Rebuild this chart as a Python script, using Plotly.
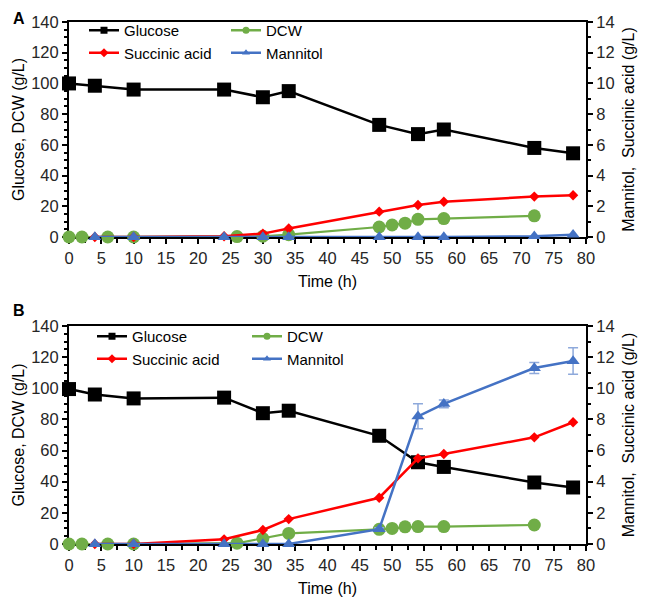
import plotly.graph_objects as go

# ---------------- data ----------------
# Panel A
a_glc_t = [0, 4, 10, 24, 30, 34, 48, 54, 58, 72, 78]
a_glc = [100, 98.5, 96, 96, 91, 95, 73, 67, 70, 58, 54.5]
a_dcw_t = [0, 2, 6, 10, 26, 30, 34, 48, 50, 52, 54, 58, 72]
a_dcw = [0, 0, 0, 0, 0.3, 0.5, 1.5, 6.5, 7.8, 9, 11.5, 12, 13.8]
a_sa_t = [4, 10, 24, 30, 34, 48, 54, 58, 72, 78]
a_sa = [0, 0, 0.05, 0.22, 0.55, 1.65, 2.08, 2.3, 2.63, 2.72]
a_man_t = [4, 10, 24, 30, 34, 48, 54, 58, 72, 78]
a_man = [0, 0, 0, 0, 0, 0, 0, 0, 0.05, 0.15]

# Panel B
b_glc_t = [0, 4, 10, 24, 30, 34, 48, 54, 58, 72, 78]
b_glc = [99.5, 96, 93.5, 94, 84, 85.6, 69.5, 52.5, 49.5, 39.5, 36.3]
b_dcw_t = [0, 2, 6, 10, 26, 30, 34, 48, 50, 52, 54, 58, 72]
b_dcw = [0, 0, 0, 0, 0.5, 3.5, 6.8, 9.4, 10, 11, 11.2, 11.2, 12.2]
b_sa_t = [4, 10, 24, 30, 34, 48, 54, 58, 72, 78]
b_sa = [0, 0, 0.3, 0.9, 1.6, 2.97, 5.5, 5.78, 6.85, 7.82]
b_man_t = [4, 10, 24, 30, 34, 48, 54, 58, 72, 78]
b_man = [0, 0, 0, 0, 0, 0.95, 8.2, 9.0, 11.3, 11.75]
b_man_err = [0, 0, 0, 0, 0, 0.1, 0.8, 0.25, 0.35, 0.85]

names = ["Glucose", "DCW", "Succinic acid", "Mannitol"]
colors = ["#000000", "#70AD47", "#FF0000", "#4472C4"]
symbols = ["square", "circle", "diamond", "triangle-up"]
sizes = [14, 13, 8, 11.5]
widths = [2.5, 2.2, 2.5, 2.5]

x_ticks = list(range(0, 81, 5))
left_ticks = list(range(0, 141, 20))
right_ticks = list(range(0, 15, 2))

fig = go.Figure()

def add_panel(xa, yl, yr, glc, dcw, sa, man, man_err, legs):
    series = [
        (glc[0], glc[1], yl, None),
        (dcw[0], dcw[1], yl, None),
        (sa[0], sa[1], yr, None),
        (man[0], man[1], yr, man_err),
    ]
    for i, (t, v, ya, err) in enumerate(series):
        kw = {}
        if err is not None:
            kw["error_y"] = dict(type="data", array=err, visible=True,
                                 color="#8EA9DB", thickness=1.5, width=5)
        fig.add_trace(go.Scatter(
            x=t, y=v, xaxis=xa, yaxis=ya, mode="lines+markers",
            line=dict(color=colors[i], width=widths[i]),
            marker=dict(symbol=symbols[i], size=sizes[i], color=colors[i]),
            cliponaxis=False, showlegend=False, name=names[i], **kw))
    # legend entries (small markers as in the reference legend)
    for i in range(4):
        fig.add_trace(go.Scatter(
            x=[None], y=[None], xaxis=xa, yaxis=yl, mode="lines+markers",
            line=dict(color=colors[i], width=2.5),
            marker=dict(symbol=symbols[i], size=7, color=colors[i]),
            name=names[i], showlegend=True,
            legend=legs[0] if i in (0, 2) else legs[1]))

add_panel("x", "y", "y2", (a_glc_t, a_glc), (a_dcw_t, a_dcw),
          (a_sa_t, a_sa), (a_man_t, a_man), None, ("legend", "legend2"))
add_panel("x2", "y3", "y4", (b_glc_t, b_glc), (b_dcw_t, b_dcw),
          (b_sa_t, b_sa), (b_man_t, b_man), b_man_err, ("legend3", "legend4"))

# page body has an 8px margin, so the figure is 8px smaller and shifted
OFF = 8
W, H = 649 - OFF, 600 - OFF

def px(x):
    return (x - OFF) / W

def py(y):
    return 1 - (y - OFF) / H

xdom = [px(69), px(586)]
domA = [py(237), py(22)]
domB = [py(544), py(326)]

FONT = "Liberation Sans, Arial, sans-serif"
TXT = "#262626"
TICK = 16.5

def xaxis_cfg(anchor):
    return dict(domain=xdom, anchor=anchor, range=[0, 80], tickvals=x_ticks,
                ticks="outside", ticklen=5, tickwidth=1.5, tickcolor="black",
                minor=dict(dtick=2.5, ticks="outside", ticklen=4, tickwidth=1.5, tickcolor="black"),
                showline=True, linecolor="black", linewidth=2, mirror=True,
                showgrid=False, zeroline=False, layer="below traces",
                tickfont=dict(size=TICK, color=TXT, family=FONT),
                title=dict(text="Time (h)", font=dict(size=16, color="black", family=FONT), standoff=10),
                automargin=False)

def yleft_cfg(dom, anchor):
    return dict(domain=dom, anchor=anchor, range=[0, 140], tickvals=left_ticks,
                ticks="outside", ticklen=5, tickwidth=1.5, tickcolor="black",
                minor=dict(dtick=5, ticks="outside", ticklen=3, tickwidth=1.5, tickcolor="black"),
                showline=True, linecolor="black", linewidth=2,
                showgrid=False, zeroline=False, layer="below traces",
                tickfont=dict(size=TICK, color=TXT, family=FONT),
                title=dict(text="Glucose, DCW (g/L)", font=dict(size=16, color="black", family=FONT), standoff=3),
                automargin=False)

def yright_cfg(overlay, anchor):
    return dict(overlaying=overlay, anchor=anchor, side="right", range=[0, 14], tickvals=right_ticks,
                ticks="outside", ticklen=5, tickwidth=1.5, tickcolor="black",
                minor=dict(dtick=1, ticks="outside", ticklen=3, tickwidth=1.5, tickcolor="black"),
                showline=True, linecolor="black", linewidth=2,
                showgrid=False, zeroline=False, layer="below traces",
                tickfont=dict(size=TICK, color=TXT, family=FONT),
                title=dict(text="Mannitol,  Succinic acid (g/L)", font=dict(size=16, color="black", family=FONT), standoff=9),
                automargin=False)

def leg(x_param, ytop_param):
    # parameters given in figure pixel coords
    return dict(x=x_param / W, y=1 - ytop_param / H, xanchor="left", yanchor="top",
                bgcolor="rgba(0,0,0,0)", font=dict(size=15, color="black", family=FONT),
                tracegroupgap=0, itemwidth=30)

fig.update_layout(
    width=W, height=H,
    margin=dict(l=0, r=0, t=0, b=0),
    paper_bgcolor="white", plot_bgcolor="white",
    font=dict(family=FONT, color="black"),
    xaxis=xaxis_cfg("y"),
    yaxis=yleft_cfg(domA, "x"),
    yaxis2=yright_cfg("y", "x"),
    xaxis2=xaxis_cfg("y3"),
    yaxis3=yleft_cfg(domB, "x2"),
    yaxis4=yright_cfg("y3", "x2"),
    legend=leg(76, 6),
    legend2=leg(218, 6),
    legend3=leg(84, 312),
    legend4=leg(239, 312),
    annotations=[
        dict(text="<b>A</b>", x=px(11), y=1, xref="paper", yref="paper",
             xanchor="left", yanchor="top", showarrow=False, font=dict(size=16, family=FONT)),
        dict(text="<b>B</b>", x=px(11), y=py(300), xref="paper", yref="paper",
             xanchor="left", yanchor="top", showarrow=False, font=dict(size=16, family=FONT)),
    ],
)

fig.write_html("out.html")
